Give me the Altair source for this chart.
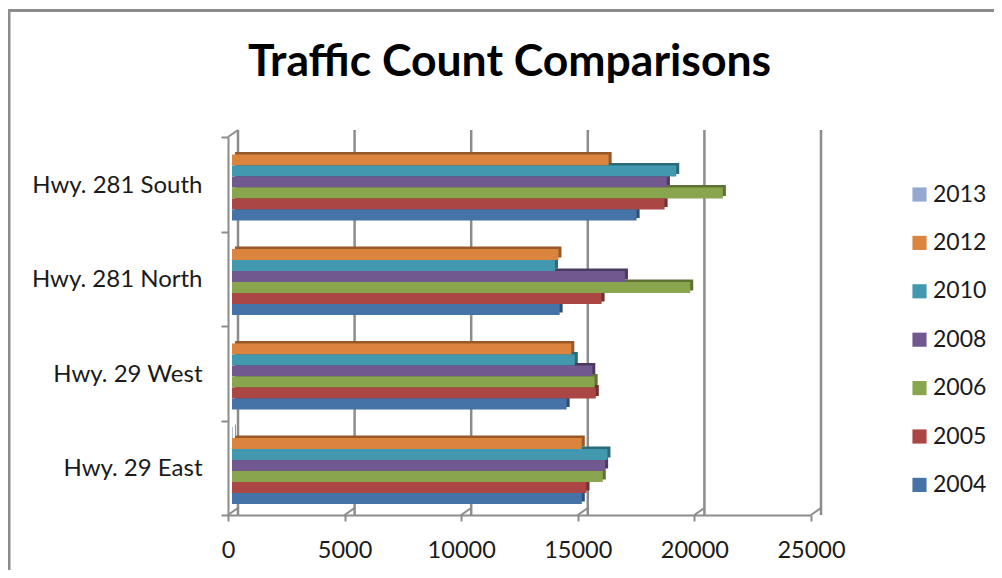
import altair as alt
import pandas as pd

title_text = ["Traffic Count Comparisons"]
categories = ["Hwy. 281 South", "Hwy. 281 North", "Hwy. 29 West", "Hwy. 29 East"]
years = ["2013", "2012", "2010", "2008", "2006", "2005", "2004"]
v2013 = [0, 0, 0, 30]
v2012 = [16150, 14000, 14550, 15000]
v2010 = [19050, 13850, 14700, 16100]
v2008 = [18650, 16850, 15450, 16000]
v2006 = [21050, 19650, 15550, 15900]
v2005 = [18550, 15850, 15600, 15200]
v2004 = [17350, 14050, 14350, 15000]
series = [v2013, v2012, v2010, v2008, v2006, v2005, v2004]
colors = ["#93A9CF", "#DB843D", "#4198AF", "#71588F", "#89A54E", "#AA4643", "#4572A7"]
dark = ["#5F7196", "#97592A", "#2B6A7B", "#4B3A60", "#5E7236", "#742F2D", "#2E4E73"]
ticks = [0, 5000, 10000, 15000, 20000, 25000]

rows = [{"cat": c, "year": y, "value": vals[i]} for y, vals in zip(years, series) for i, c in enumerate(categories)]
data = pd.DataFrame(rows)
tick_df = pd.DataFrame({"t": ticks})
title_df = pd.DataFrame({"label": title_text})

FONT = "Lato"
GREY = "#8C8C8C"
W, H = 583, 378
PAD_L, PAD_T, PAD_R, PAD_B = 220, 129, 183, 55
x_scale = alt.Scale(domain=[0, 25000], nice=False, zero=True)
y_scale = alt.Scale(domain=categories, paddingInner=0, paddingOuter=0)

x_axis = alt.Axis(values=ticks, title="", grid=False, format="d", labelFont=FONT, labelFontSize=23.5,
                  labelColor="#1a1a1a", tickColor=GREY, tickWidth=2, tickSize=6, domainColor=GREY,
                  domainWidth=2, labelPadding=17, labelFlush=False)
y_axis = alt.Axis(title="", grid=False, labelFont=FONT, labelFontSize=24, labelColor="#1a1a1a",
                  tickColor=GREY, tickWidth=2, tickSize=7, tickBand="extent", domainColor=GREY,
                  domainWidth=2, labelPadding=19, labelOffset=1)

X = alt.X("t:Q", scale=x_scale, axis=x_axis)
grid = alt.Chart(tick_df).mark_rule(color=GREY, strokeWidth=2.5, xOffset=10, yOffset=-7).encode(x=X)
diag = alt.Chart(tick_df).mark_rule(color=GREY, strokeWidth=2, x2Offset=10).encode(
    x=X, x2="t:Q", y=alt.value(H), y2=alt.value(H - 7))
corner = alt.Chart(tick_df.head(1)).mark_rule(color=GREY, strokeWidth=2, x2Offset=10).encode(
    x=X, x2="t:Q", y=alt.value(0), y2=alt.value(-7))
frame_top = alt.Chart(title_df).mark_rule(color="#8C8C8C", strokeWidth=3).encode(
    x=alt.value(-PAD_L), x2=alt.value(W + PAD_R), y=alt.value(-126.5))
frame_left = alt.Chart(title_df).mark_rule(color="#8C8C8C", strokeWidth=3).encode(
    x=alt.value(-PAD_L + 1), y=alt.value(-127), y2=alt.value(H + PAD_B))
title = alt.Chart(title_df).mark_text(font=FONT, fontSize=44.5, fontWeight="bold", color="#000000",
                                      align="center", baseline="alphabetic").encode(
    x=alt.value(281.5), y=alt.value(-61), text="label:N")

def bars(range_colors, xoff, band_align, legend):
    off_scale = alt.Scale(domain=years, paddingInner=0, paddingOuter=0.795, align=band_align)
    return alt.Chart(data).mark_bar(xOffset=xoff, x2Offset=xoff, strokeWidth=0).encode(
        x=alt.X("value:Q", scale=x_scale, axis=x_axis),
        y=alt.Y("cat:N", scale=y_scale, sort=categories, axis=y_axis),
        yOffset=alt.YOffset("year:N", sort=years, scale=off_scale),
        color=alt.Color("year:N", sort=years, scale=alt.Scale(domain=years, range=range_colors),
                        legend=alt.Legend(title=None, orient="none", legendX=680, legendY=46, symbolType="square",
                                          symbolSize=200, labelFont=FONT, labelFontSize=23, labelColor="#1a1a1a",
                                          rowPadding=24.4, symbolStrokeWidth=0, labelOffset=2) if legend else None),
    )

side = bars(dark, 7, 0.229, False)
front = bars(colors, 4, 0.37, True)

chart = alt.layer(frame_top, frame_left, title, grid, diag, corner, side, front).resolve_scale(
    color="independent", yOffset="independent").properties(
    width=W, height=H,
    autosize=alt.AutoSizeParams(type="none"),
    padding={"left": PAD_L, "top": PAD_T, "right": PAD_R, "bottom": PAD_B},
).configure_view(stroke=None)

chart.save("out.html", embed_options={"renderer": "svg", "actions": False})
